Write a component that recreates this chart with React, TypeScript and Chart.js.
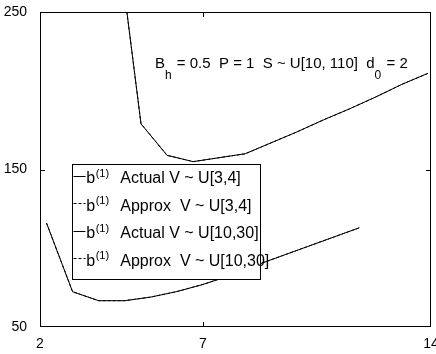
import React, { useEffect, useRef } from "react";
import { Chart, registerables } from "chart.js";

Chart.register(...registerables);

// ---- data ----
const lowerX = [2.2, 3.0, 3.8, 4.6, 5.4, 6.2, 7.0, 7.8, 8.6, 9.4, 10.2, 11.0, 11.8];
const lowerY = [116, 72.4, 66.7, 66.7, 69, 72.5, 77, 82.5, 89, 95, 101, 107, 113];
const upperX = [4.3, 5.1, 5.9, 6.7, 7.5, 8.3, 9.1, 9.9, 10.7, 11.5, 12.3, 13.1, 13.9];
const upperY = [310, 179, 159, 155, 157.5, 160, 167, 174, 181.5, 188.5, 196, 204, 211];

const xTicks = [2, 7, 14];
const yTicks = [50, 150, 250];

const seriesLabels = [
  "Actual V ~ U[3,4]",
  "Approx  V ~ U[3,4]",
  "Actual V ~ U[10,30]",
  "Approx  V ~ U[10,30]",
];
const legendSymbol = "b";
const legendSup = "(1)";

const annotationParts = [
  { t: "B", sub: false },
  { t: "h", sub: true },
  { t: " = 0.5  P = 1  S ~ U[10, 110]  d", sub: false },
  { t: "0", sub: true },
  { t: " = 2", sub: false },
];

const FONT = "'Liberation Sans', Arial, Helvetica, sans-serif";

const pts = (xs: number[], ys: number[]) => xs.map((x, i) => ({ x, y: ys[i] }));

const overlayPlugin = {
  id: "matlabOverlay",
  afterDraw(chart: any) {
    const ctx: CanvasRenderingContext2D = chart.ctx;
    const ca = chart.chartArea;
    const left = Math.round(ca.left);
    const right = Math.round(ca.right);
    const top = Math.round(ca.top);
    const bottom = Math.round(ca.bottom);
    const xs = chart.scales.x;
    const ys = chart.scales.y;
    ctx.save();
    ctx.setLineDash([]);
    ctx.globalAlpha = 1;
    ctx.globalCompositeOperation = "source-over";
    ctx.fillStyle = "#000";
    ctx.strokeStyle = "#000";

    // annotation
    let ax = left + 115;
    const ab = top + 56.3;
    ctx.textBaseline = "alphabetic";
    ctx.textAlign = "left";
    for (const p of annotationParts) {
      ctx.font = p.sub ? `12px ${FONT}` : `15px ${FONT}`;
      ctx.fillText(p.t, ax, p.sub ? ab + 10.5 : ab);
      ax += ctx.measureText(p.t).width + (p.sub ? 1 : 0);
    }

    // legend box
    const bx = Math.round(left + 31.7);
    const by = Math.round(top + 151.7);
    const bw = 188;
    const bh = 115;
    ctx.fillStyle = "#fff";
    ctx.fillRect(bx, by, bw, bh);
    ctx.fillStyle = "#000";
    ctx.fillRect(bx, by, bw + 1, 1);
    ctx.fillRect(bx, by + bh, bw + 1, 1);
    ctx.fillRect(bx, by, 1, bh + 1);
    ctx.fillRect(bx + bw, by, 1, bh + 1);
    seriesLabels.forEach((lab, i) => {
      const base = by + 19 + i * 27.5;
      const ly = Math.round(base - 7.5) + 0.5;
      const ds = chart.data.datasets[i];
      ctx.save();
      ctx.setLineDash(ds.borderDash || []);
      ctx.lineWidth = 1;
      ctx.strokeStyle = "#000";
      ctx.beginPath();
      ctx.moveTo(bx + 1.5, ly);
      ctx.lineTo(bx + 13.5, ly);
      ctx.stroke();
      ctx.restore();
      ctx.fillStyle = "#000";
      ctx.font = `16px ${FONT}`;
      const tx = bx + 14.3;
      ctx.fillText(legendSymbol, tx, base);
      const bwid = ctx.measureText(legendSymbol).width;
      ctx.font = `11px ${FONT}`;
      ctx.fillText(legendSup, tx + bwid + 0.5, base - 6.5);
      ctx.font = `16px ${FONT}`;
      ctx.fillText(lab, bx + 48.3, base);
    });

    // axes frame (filled rects)
    ctx.fillStyle = "#000";
    ctx.fillRect(left, top, right - left, 1);
    ctx.fillRect(left, bottom - 1, right - left, 1);
    ctx.fillRect(left, top, 1, bottom - top);
    ctx.fillRect(right - 1, top, 1, bottom - top);
    // inward ticks
    const tl = 5;
    for (const v of xTicks) {
      const px = Math.round(xs.getPixelForValue(v));
      const cx = Math.min(Math.max(px, left), right - 1);
      ctx.fillRect(cx, bottom - tl, 1, tl);
      ctx.fillRect(cx, top, 1, tl);
    }
    for (const v of yTicks) {
      const py = Math.round(ys.getPixelForValue(v));
      const cy = Math.min(Math.max(py, top), bottom - 1);
      ctx.fillRect(left, cy, tl, 1);
      ctx.fillRect(right - tl, cy, tl, 1);
    }
    ctx.restore();
  },
};

export default function App() {
  const ref = useRef<HTMLCanvasElement | null>(null);
  useEffect(() => {
    if (!ref.current) return;
    const chart = new Chart(ref.current, {
      type: "line",
      data: {
        datasets: [
          { label: seriesLabels[0], data: pts(lowerX, lowerY), borderColor: "#000", borderWidth: 1, pointRadius: 0, fill: false, tension: 0 },
          { label: seriesLabels[1], data: pts(lowerX, lowerY), borderColor: "#000", borderWidth: 1, borderDash: [3, 2], pointRadius: 0, fill: false, tension: 0 },
          { label: seriesLabels[2], data: pts(upperX, upperY), borderColor: "#000", borderWidth: 1, pointRadius: 0, fill: false, tension: 0 },
          { label: seriesLabels[3], data: pts(upperX, upperY), borderColor: "#000", borderWidth: 1, borderDash: [3, 2], pointRadius: 0, fill: false, tension: 0 },
        ],
      },
      options: {
        animation: false,
        responsive: false,
        devicePixelRatio: 1,
        layout: { padding: { left: 0, right: 5, top: 12, bottom: 0 } },
        plugins: { legend: { display: false }, tooltip: { enabled: false }, title: { display: false } },
        scales: {
          x: {
            type: "linear",
            min: 2,
            max: 14,
            grid: { display: false },
            border: { display: false },
            ticks: { color: "#000", font: { family: FONT, size: 14 }, padding: 1, maxRotation: 0, autoSkip: false },
            afterBuildTicks: (s: any) => { s.ticks = xTicks.map((v) => ({ value: v })); },
            afterFit: (s: any) => { s.height = 27; s.paddingLeft = 0; s.paddingRight = 0; },
          },
          y: {
            type: "linear",
            min: 50,
            max: 250,
            grid: { display: false },
            border: { display: false },
            ticks: { color: "#000", font: { family: FONT, size: 14 }, padding: 5, autoSkip: false },
            afterBuildTicks: (s: any) => { s.ticks = yTicks.map((v) => ({ value: v })); },
            afterFit: (s: any) => { s.width = 40; s.paddingTop = 0; s.paddingBottom = 0; },
          },
        },
      },
      plugins: [overlayPlugin],
    });
    return () => chart.destroy();
  }, []);
  return (
    <div style={{ position: "absolute", left: 0, top: 0, width: 436, height: 354, background: "#fff" }}>
      <canvas ref={ref} width={436} height={354} style={{ display: "block", width: 436, height: 354 }} />
    </div>
  );
}
